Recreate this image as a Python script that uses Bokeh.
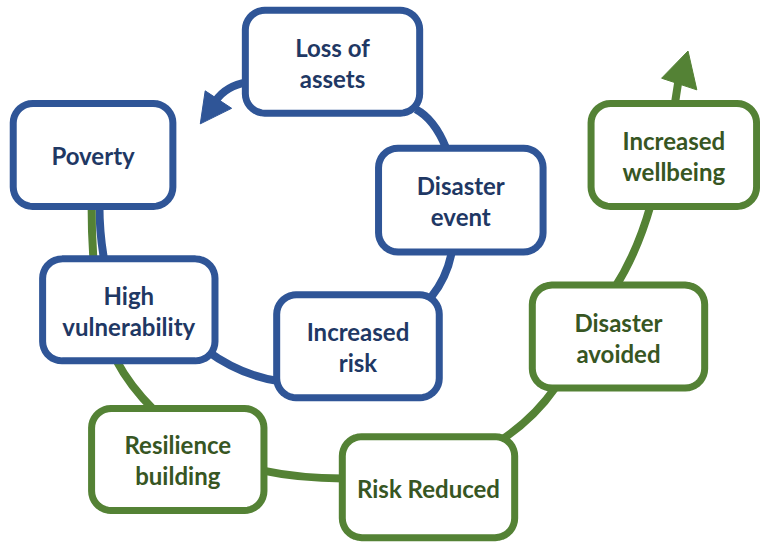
import numpy as np
from bokeh.plotting import figure
from bokeh.models import Range1d, ColumnDataSource
from bokeh.core.properties import value
from bokeh.embed import file_html
from bokeh.resources import INLINE

# ---- diagram data (reference image pixel coordinates) ----
node_labels = ["Loss of\nassets", "Poverty", "Disaster\nevent", "High\nvulnerability",
               "Increased\nrisk", "Resilience\nbuilding", "Risk Reduced",
               "Disaster\navoided", "Increased\nwellbeing"]
node_group = ["blue", "blue", "blue", "blue", "blue", "green", "green", "green", "green"]
node_left = [250, 13, 386, 43, 282, 93, 349, 543, 603]
node_right = [428, 176, 554, 219, 448, 269, 525, 719, 772]
node_top = [10, 106, 152, 266, 303, 420, 449, 293, 106]
node_bottom = [116, 212, 259, 371, 409, 525, 553, 399, 212]

# connectors: start, control, end
conn_group = ["blue", "blue", "blue", "blue", "blue", "green", "green", "green", "green", "green", "green"]
conn_x0 = [252, 424, 461, 285, 106, 93, 118, 268, 512, 627, 688]
conn_y0 = [84, 112, 258, 392, 268, 210, 370, 484, 452, 296, 110]
conn_cx = [230, 443, 456, 245, 101, 93, 132, 305, 545, 650, 690]
conn_cy = [88, 122, 285, 386, 240, 240, 397, 492, 430, 260, 97]
conn_x1 = [220, 455, 440, 210, 101, 95, 157, 350, 567, 664, 692]
conn_y1 = [103, 152, 305, 360, 210, 268, 422, 492, 398, 210, 84]

# arrowheads
head_group = ["blue", "green"]
head_xs = [[209, 236, 204], [675, 711, 702]]
head_ys = [[93, 111, 127], [80, 92, 52]]

LINE = {"blue": "#2F5597", "green": "#548235"}
TEXT = {"blue": "#1F3864", "green": "#375623"}

W, H = 760, 542
p = figure(width=W, height=H, output_backend="svg", toolbar_location=None,
           x_range=Range1d(0, 776), y_range=Range1d(558, 0),
           min_border=0, outline_line_color=None, background_fill_color="white",
           border_fill_color="white")
p.axis.visible = False
p.grid.visible = False

# connectors
for g in ["blue", "green"]:
    idx = [i for i, c in enumerate(conn_group) if c == g]
    src = ColumnDataSource(dict(x0=[conn_x0[i] for i in idx], y0=[conn_y0[i] for i in idx],
                                cx=[conn_cx[i] for i in idx], cy=[conn_cy[i] for i in idx],
                                x1=[conn_x1[i] for i in idx], y1=[conn_y1[i] for i in idx]))
    p.quadratic(x0="x0", y0="y0", x1="x1", y1="y1", cx="cx", cy="cy", source=src,
                line_color=LINE[g], line_width=8)

for g, xs, ys in zip(head_group, head_xs, head_ys):
    p.patch(xs, ys, fill_color=LINE[g], line_color=LINE[g], line_width=1)


def rounded(l, r, t, b, rad=20, n=10):
    xs, ys = [], []
    corners = [(r - rad, t + rad, -np.pi / 2, 0), (r - rad, b - rad, 0, np.pi / 2),
               (l + rad, b - rad, np.pi / 2, np.pi), (l + rad, t + rad, np.pi, 1.5 * np.pi)]
    for cx, cy, a0, a1 in corners:
        a = np.linspace(a0, a1, n)
        xs.extend(cx + rad * np.cos(a))
        ys.extend(cy + rad * np.sin(a))
    return xs, ys


bx, by, bc = [], [], []
for l, r, t, b, g in zip(node_left, node_right, node_top, node_bottom, node_group):
    xs, ys = rounded(l, r, t, b)
    bx.append(xs)
    by.append(ys)
    bc.append(LINE[g])
p.patches(bx, by, fill_color="white", line_color=bc, line_width=7, line_join="round")

# labels
tx, ty, tt, tc = [], [], [], []
for lab, l, r, t, b, g in zip(node_labels, node_left, node_right, node_top, node_bottom, node_group):
    lines = lab.split("\n")
    cxm = (l + r) / 2
    cym = (t + b) / 2 + 1
    for k, s in enumerate(lines):
        tx.append(cxm)
        ty.append(cym + (k - (len(lines) - 1) / 2) * 32)
        tt.append(s)
        tc.append(TEXT[g])
p.text(x=tx, y=ty, text=tt, text_color=tc, text_align="center", text_baseline="middle",
       text_font=value("Lato"), text_font_style="bold", text_font_size="24px")

open("out.html", "w").write(file_html(p, INLINE))
